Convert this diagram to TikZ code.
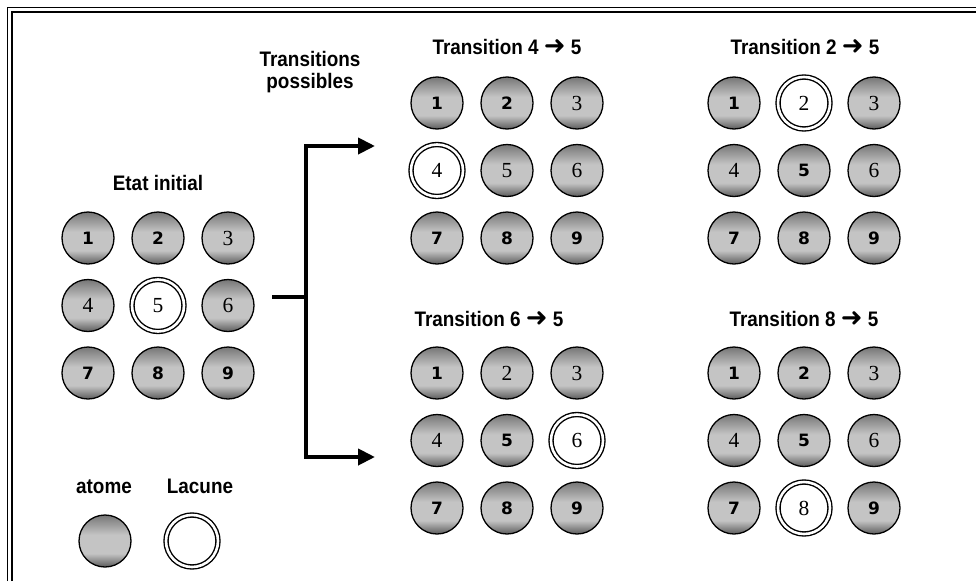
\documentclass[tikz,border=0pt]{standalone}
\usepackage{fontspec}
\setmainfont{Liberation Serif}
\newfontfamily\lsn[FakeStretch=0.9]{Liberation Sans}
\newfontfamily\djv{DejaVu Sans}
\newfontfamily\lser{Liberation Serif}
\usetikzlibrary{arrows.meta}
\newcommand\ttlfont{\lsn\bfseries\fontsize{21}{22}\selectfont}
\newcommand\digb{\djv\bfseries\fontsize{17}{17}\selectfont}
\newcommand\digs{\lser\fontsize{21.5}{21.5}\selectfont}
\newcommand\rarr{{\djv\bfseries\fontsize{26}{26}\selectfont\raisebox{-0.5pt}{➜}}}
\definecolor{atomtop}{RGB}{118,118,118}
\definecolor{atommid}{RGB}{196,196,196}
\definecolor{atombot}{RGB}{92,92,92}
\pgfdeclareverticalshading{atomsh}{100bp}{color(0bp)=(atombot); color(25bp)=(atombot);
  color(38bp)=(atommid); color(56bp)=(atommid); color(75bp)=(atomtop); color(100bp)=(atomtop)}
\tikzset{
  atombase/.style={circle, draw=black, line width=1.3pt, minimum size=52pt, inner sep=0pt,
    shading=atomsh},
  atomb/.style={atombase, font=\digb},
  atoms/.style={atombase, font=\digs},
  vac/.style={circle, draw=black, line width=1.4pt, double=white, double distance=2.6pt,
    fill=white, minimum size=52pt, inner sep=0pt, font=\digs},
  ttl/.style={font=\ttlfont, inner sep=0pt, anchor=base, align=center},
  conn/.style={line width=4pt, line join=miter},
  tip/.style={-{Triangle[length=17pt,width=16pt]}}
}
\newcommand\atomgrid[4]{%
  \foreach \lab/\kind [count=\i from 0] in {#4} {
    \pgfmathtruncatemacro\col{mod(\i,3)}
    \pgfmathtruncatemacro\row{div(\i,3)}
    \node[\kind] (#1-\lab) at ({#2+70*\col},{#3+67.5*\row}) {\lab};
  }%
}
\begin{document}
\begin{tikzpicture}[x=1pt,y=-1pt]
\useasboundingbox (0,0) rectangle (976,581);
\fill[white] (0,0) rectangle (976,581);
% frame
\draw[line width=1.6pt, line join=miter] (7.5,581) -- (7.5,7.5) -- (976,7.5);
\draw[line width=2pt, line join=miter] (11.5,581) -- (11.5,12) -- (976,12);

% titles
\node[ttl] (tinit) at (158,190) {Etat initial};
\node[ttl] (tposs) at (310,88) {Transitions\\possibles};
\node[ttl] (t45) at (507,54) {Transition 4 \rarr{} 5};
\node[ttl] (t25) at (805,54) {Transition 2 \rarr{} 5};
\node[ttl] (t65) at (489,326) {Transition 6 \rarr{} 5};
\node[ttl] (t85) at (804,326) {Transition 8 \rarr{} 5};

% grids
\atomgrid{ini}{88}{238}{1/atomb,2/atomb,3/atoms,4/atoms,5/vac,6/atoms,7/atomb,8/atomb,9/atomb}
\atomgrid{a}{437}{103}{1/atomb,2/atomb,3/atoms,4/vac,5/atoms,6/atoms,7/atomb,8/atomb,9/atomb}
\atomgrid{b}{734}{103}{1/atomb,2/vac,3/atoms,4/atoms,5/atomb,6/atoms,7/atomb,8/atomb,9/atomb}
\atomgrid{c}{437}{373}{1/atomb,2/atoms,3/atoms,4/atoms,5/atomb,6/vac,7/atomb,8/atomb,9/atomb}
\atomgrid{d}{734}{373}{1/atomb,2/atomb,3/atoms,4/atoms,5/atomb,6/atoms,7/atomb,8/vac,9/atomb}

% connectors
\coordinate (stub) at (272,297);
\coordinate (fork) at (306,297);
\coordinate (tipT) at (375,146);
\coordinate (tipB) at (375,457);
\draw[conn] (stub) -- (fork);
\draw[conn, tip] (fork) |- (tipT);
\draw[conn, tip] (fork) |- (tipB);

% legend
\node[ttl] (latome) at (104,493) {atome};
\node[ttl] (llac) at (200,493) {Lacune};
\node[atombase] (gatom) at (105,541) {};
\node[vac] (glac) at (192,541) {};
\end{tikzpicture}
\end{document}
